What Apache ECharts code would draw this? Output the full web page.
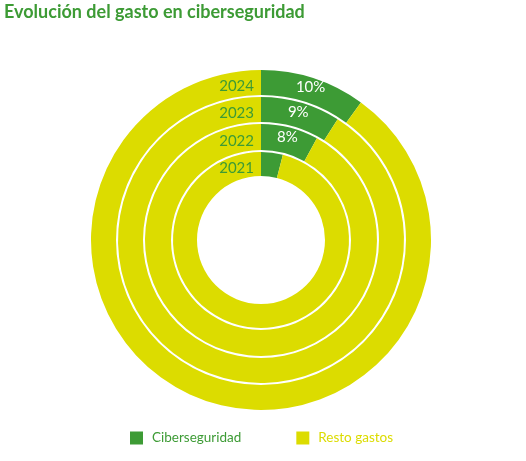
<!DOCTYPE html>
<html><head><meta charset="utf-8">
<script src="https://cdn.jsdelivr.net/npm/echarts@6/dist/echarts.min.js"></script>
<style>html,body{margin:0;padding:0;background:#fff}#c{width:526px;height:461px}</style>
</head><body><div id="c"></div>
<script>
const years = ['2021','2022','2023','2024'];
const ciber = [4, 8, 9, 10];
const showPct = [false, true, true, true];
const names = ['Ciberseguridad','Resto gastos'];
const GREEN = '#3d9b35', YELLOW = '#dcdc00';
const FONT = 'Lato';
const cx = 261, cy = 240;
const radii = [[64,88],[90,116],[118,143],[145,170]];

const chart = echarts.init(document.getElementById('c'));
const series = years.map((y,i)=>({
  type:'pie', center:[cx,cy], radius:radii[i], startAngle:90, clockwise:true,
  silent:true, avoidLabelOverlap:false, labelLine:{show:false},
  itemStyle:{borderWidth:0},
  label:{show:false},
  data:[
    {name:names[0], value:ciber[i], itemStyle:{color:GREEN},
     label:{show:showPct[i], position:'inside', formatter:'{c}%', color:'#fff', fontSize:15, fontFamily:FONT}},
    {name:names[1], value:100-ciber[i], itemStyle:{color:YELLOW}}
  ]
}));
const graphic = [{type:'text', left:4, top:3, z:100, style:{text:'Evolución del gasto en ciberseguridad', fill:GREEN, font:'bold 18px '+FONT}}]
  .concat(years.map((y,i)=>({type:'text', x:cx-7, y:cy-(radii[i][0]+radii[i][1])/2+4, z:100,
    style:{text:y, fill:GREEN, font:'15px '+FONT, align:'right', verticalAlign:'middle'}})));
chart.setOption({
  animation:false,
  legend:{left:130, top:431, padding:0, itemWidth:13, itemHeight:13, itemGap:55, icon:'rect',
    data:[{name:names[0], textStyle:{color:GREEN}},{name:names[1], textStyle:{color:YELLOW}}],
    textStyle:{fontFamily:FONT, fontSize:13.5, padding:[0,0,0,4]}},
  graphic:graphic,
  series:series
});
</script></body></html>
